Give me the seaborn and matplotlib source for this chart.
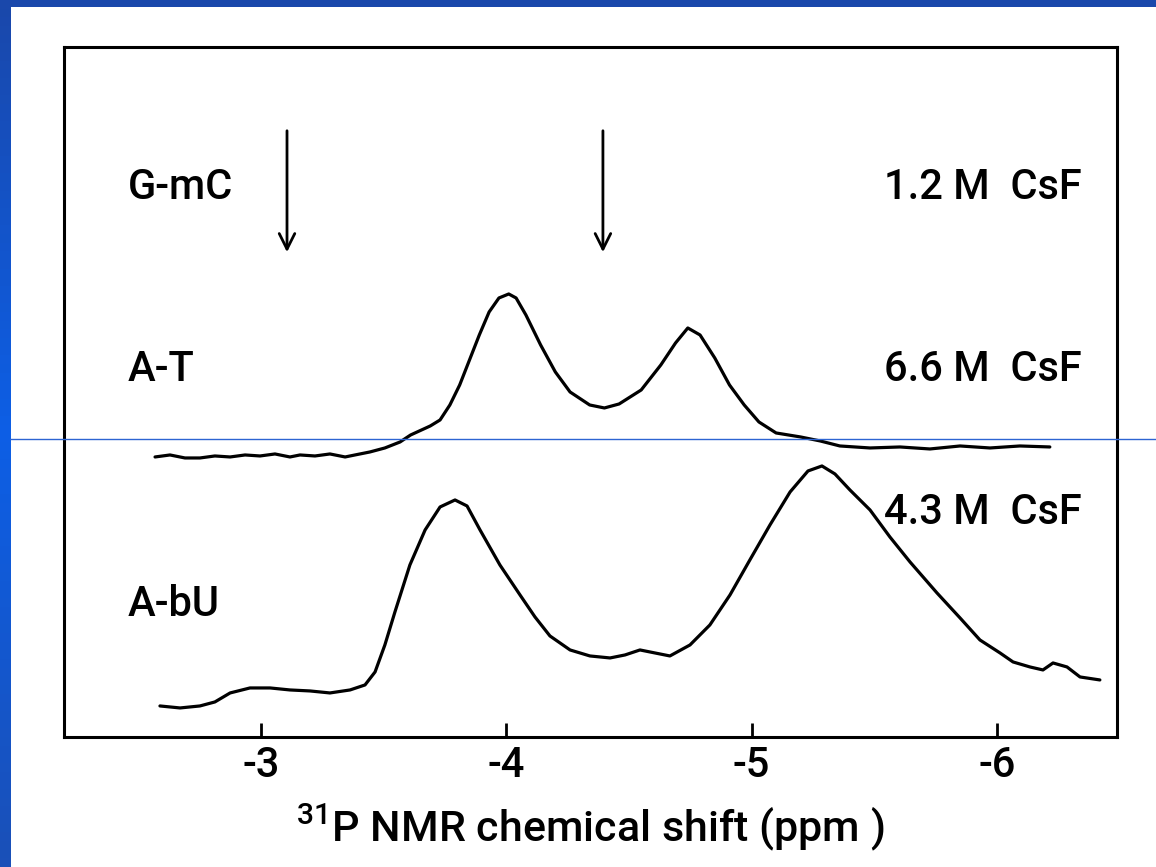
import matplotlib
matplotlib.use('Agg')
import numpy as np
import pandas as pd
import seaborn as sns
from matplotlib import pyplot as plt
from matplotlib.lines import Line2D

# spectra (ppm, arbitrary intensity)
at_ppm = [-2.568, -2.629, -2.690, -2.751, -2.812, -2.874, -2.935, -2.996,
          -3.057, -3.118, -3.159, -3.220, -3.281, -3.343, -3.383, -3.444,
          -3.505, -3.567, -3.61, -3.69, -3.73, -3.77, -3.81, -3.85, -3.89,
          -3.93, -3.97, -4.01, -4.04, -4.08, -4.14, -4.20, -4.26, -4.34,
          -4.40, -4.46, -4.55, -4.63, -4.69, -4.74, -4.79, -4.85, -4.91,
          -4.97, -5.03, -5.10, -5.20, -5.28, -5.360, -5.483, -5.605, -5.727,
          -5.850, -5.972, -6.094, -6.216]
at_int = [280, 282, 279, 279, 281, 280, 282, 281,
          283, 280, 282, 281, 283, 280, 282, 285,
          289, 295, 302, 311, 317, 332, 352, 377, 402,
          425, 439, 443, 439, 422, 392, 365, 345, 332,
          329, 333, 347, 372, 394, 409, 402, 379, 352,
          332, 315, 304, 300, 296, 291, 289, 290, 288,
          291, 289, 291, 290]

abu_ppm = [-2.588, -2.670, -2.751, -2.812, -2.874, -2.955, -3.037, -3.118,
           -3.200, -3.281, -3.363, -3.424, -3.465, -3.505, -3.546, -3.607,
           -3.669, -3.730, -3.791, -3.840, -3.893, -3.974, -4.056, -4.117,
           -4.178, -4.260, -4.341, -4.423, -4.484, -4.545, -4.606, -4.667,
           -4.749, -4.830, -4.912, -4.993, -5.075, -5.157, -5.230, -5.287,
           -5.340, -5.401, -5.483, -5.564, -5.646, -5.756, -5.850, -5.931,
           -6.013, -6.066, -6.135, -6.188, -6.229, -6.286, -6.339, -6.420]
abu_int = [31, 29, 31, 35, 44, 49, 49, 47,
           46, 44, 47, 52, 65, 92, 125, 172,
           207, 230, 237, 231, 207, 172, 142, 120,
           101, 87, 81, 79, 82, 87, 84, 81,
           92, 112, 142, 177, 212, 245, 266, 271,
           263, 247, 227, 200, 175, 144, 119, 97,
           84, 75, 70, 67, 74, 70, 60, 57]

tick_vals = [-3, -4, -5, -6]
tick_labels = ['-3', '-4', '-5', '-6']
sample_names = ['G-mC', 'A-T', 'A-bU']
salt_labels = ['1.2 M  CsF', '6.6 M  CsF', '4.3 M  CsF']
arrow_ppm = [-3.106, -4.394]

df = pd.concat([
    pd.DataFrame({'ppm': at_ppm, 'intensity': at_int, 'trace': 'A-T'}),
    pd.DataFrame({'ppm': abu_ppm, 'intensity': abu_int, 'trace': 'A-bU'}),
])

sns.set_theme(style='white')
plt.rcParams['font.family'] = ['Roboto', 'DejaVu Sans']
plt.rcParams['mathtext.default'] = 'regular'
plt.rcParams['text.color'] = 'black'
plt.rcParams['axes.labelcolor'] = 'black'
plt.rcParams['xtick.color'] = 'black'

fig = plt.figure(figsize=(11.56, 8.67), dpi=100)
ax = fig.add_axes([0.0554, 0.150, 0.9109, 0.7958])

sns.lineplot(
    data=df, x='ppm', y='intensity', hue='trace',
    palette={'A-T': 'black', 'A-bU': 'black'},
    estimator=None, sort=False, legend=False,
    linewidth=2.3, ax=ax,
)

ax.set_xlim(-2.197, -6.49)
ax.set_ylim(0, 690)
ax.set_yticks([])
ax.set_xticks(tick_vals)
ax.set_xticklabels(tick_labels, fontsize=30, fontweight='medium')
ax.tick_params(axis='x', direction='in', length=10, width=2, pad=6,
               bottom=True, colors='black')
for s in ax.spines.values():
    s.set_color('black')
    s.set_linewidth(2.2)
ax.set_ylabel('')
ax.set_xlabel('$^{31}$P NMR chemical shift (ppm )', fontsize=31,
              fontweight='medium', labelpad=12, color='black')

# sample / salt labels
for name, yv in zip(sample_names, [549, 367, 132]):
    ax.text(-2.458, yv, name, fontsize=30, fontweight='medium',
            ha='left', va='center')
for salt, yv in zip(salt_labels, [549, 367, 224]):
    ax.text(-6.345, yv, salt, fontsize=30, fontweight='medium',
            ha='right', va='center')

for xa in arrow_ppm:
    ax.annotate('', xy=(xa, 482), xytext=(xa, 609),
                arrowprops=dict(arrowstyle='->', color='black', lw=2,
                                mutation_scale=28))

# slide decorations: blue frame edges and thin guide line
fig.add_artist(Line2D([10 / 1156, 1], [1 - 439 / 867] * 2,
                      transform=fig.transFigure, color='#2d64d2', lw=1))
bar = fig.add_axes([0, 0, 11 / 1156, 1])
bar.imshow(np.linspace(0, 1, 100).reshape(-1, 1), aspect='auto',
           cmap=matplotlib.colors.LinearSegmentedColormap.from_list(
               'b', ['#1a48ab', '#0d5fe6', '#1a50b8']))
bar.set_axis_off()
top = fig.add_axes([0, 1 - 7 / 867, 1, 7 / 867])
top.set_facecolor('#1a48ab')
top.set_xticks([])
top.set_yticks([])
for s in top.spines.values():
    s.set_visible(False)

fig.savefig('out.png', dpi=100)
